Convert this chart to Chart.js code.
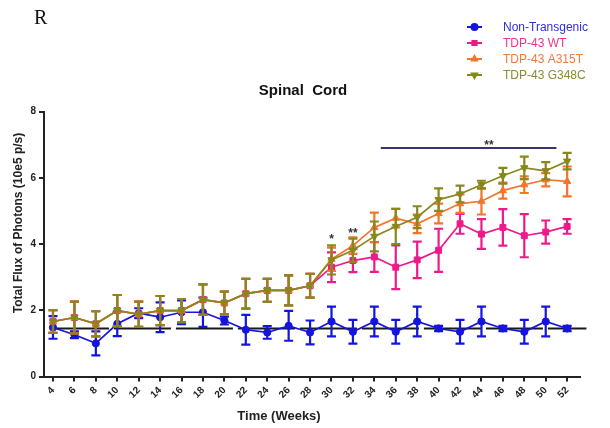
<!DOCTYPE html>
<html>
<head>
<meta charset="utf-8">
<script src="https://cdn.jsdelivr.net/npm/chart.js@4.4.1/dist/chart.umd.min.js"></script>
<style>
  html, body { margin: 0; padding: 0; background: #fff; }
  #wrap { width: 610px; height: 428px; position: relative; }
</style>
</head>
<body>
<div id="wrap"><canvas id="c"></canvas></div>
<script>
// Time points (weeks)
const weeks = [4, 6, 8, 10, 12, 14, 16, 18, 20, 22, 24, 26, 28, 30, 32, 34, 36, 38, 40, 42, 44, 46, 48, 50, 52];
const yTicks = [0, 2, 4, 6, 8];

// Total flux of photons (10e5 p/s), mean and SEM per group
const nonTgMean = [1.48, 1.26, 1.00, 1.59, 1.91, 1.79, 1.94, 1.94, 1.69, 1.41, 1.33, 1.53, 1.33, 1.66, 1.35, 1.66, 1.35, 1.66, 1.45, 1.35, 1.66, 1.45, 1.35, 1.66, 1.45];
const nonTgSem  = [0.34, 0.10, 0.36, 0.37, 0.15, 0.45, 0.36, 0.44, 0.12, 0.45, 0.19, 0.45, 0.36, 0.45, 0.36, 0.45, 0.36, 0.45, 0.08, 0.36, 0.45, 0.08, 0.36, 0.45, 0.08];

const wtMean = [1.66, 1.78, 1.59, 1.99, 1.88, 1.99, 1.99, 2.32, 2.22, 2.50, 2.60, 2.60, 2.74, 3.30, 3.50, 3.61, 3.30, 3.52, 3.81, 4.61, 4.30, 4.50, 4.25, 4.36, 4.53];
const wtSem  = [0.34, 0.48, 0.38, 0.47, 0.38, 0.44, 0.35, 0.46, 0.34, 0.45, 0.35, 0.45, 0.36, 0.45, 0.35, 0.45, 0.66, 0.55, 0.65, 0.30, 0.45, 0.55, 0.65, 0.35, 0.22];

const a315tMean = [1.66, 1.78, 1.59, 1.99, 1.88, 1.99, 1.99, 2.32, 2.22, 2.50, 2.60, 2.60, 2.74, 3.54, 3.95, 4.50, 4.78, 4.61, 4.92, 5.22, 5.29, 5.61, 5.79, 5.94, 5.89];
const a315tSem  = [0.34, 0.48, 0.38, 0.47, 0.38, 0.44, 0.35, 0.46, 0.34, 0.45, 0.35, 0.45, 0.36, 0.35, 0.25, 0.45, 0.28, 0.28, 0.30, 0.28, 0.40, 0.24, 0.25, 0.20, 0.45];

const g348cMean = [1.66, 1.78, 1.59, 1.99, 1.88, 1.99, 1.99, 2.32, 2.22, 2.50, 2.60, 2.60, 2.74, 3.52, 3.81, 4.23, 4.53, 4.81, 5.34, 5.51, 5.79, 6.06, 6.30, 6.21, 6.50];
const g348cSem  = [0.34, 0.48, 0.38, 0.47, 0.38, 0.44, 0.35, 0.46, 0.34, 0.45, 0.35, 0.45, 0.36, 0.44, 0.35, 0.45, 0.53, 0.33, 0.34, 0.25, 0.12, 0.24, 0.34, 0.26, 0.25];

// Reference level of the non-transgenic group and the significance bar
const baselineLevel = 1.45;
const baselineSpan = [3.9, 53.8];
const sigBarLevel = 6.9;
const sigBarSpan = [34.6, 51.0];
const sigMarks = [
  { week: 30, y: 4.22, text: '*' },
  { week: 32, y: 4.40, text: '**' },
  { week: 44.7, y: 7.07, text: '**' }
];

const seriesNames = ['Non-Transgenic', 'TDP-43 WT', 'TDP-43 A315T', 'TDP-43 G348C'];

const toPoints = (xs, ys) => xs.map((x, i) => ({ x, y: ys[i] }));

const COLORS = {
  nonTg: '#1414e0',
  wt: '#ee1a8a',
  a315t: '#f4752a',
  g348c: '#87871c'
};
const LEGEND_TEXT = ['#2f2fd6', '#ec3590', '#f07b3e', '#8a8a34'];

function seriesDataset(label, mean, sem, color, style, rotation, radius, order) {
  return {
    label, data: toPoints(weeks, mean), sem,
    borderColor: color, backgroundColor: color,
    borderWidth: 1.7, tension: 0,
    pointStyle: style, pointRotation: rotation, pointRadius: radius,
    pointBorderWidth: 1, pointBorderColor: color, pointBackgroundColor: color,
    order
  };
}

const datasets = [
  seriesDataset(seriesNames[0], nonTgMean, nonTgSem, COLORS.nonTg, 'circle', 0, 3.6, 3),
  seriesDataset(seriesNames[1], wtMean, wtSem, COLORS.wt, 'rect', 0, 4.2, 2),
  seriesDataset(seriesNames[2], a315tMean, a315tSem, COLORS.a315t, 'triangle', 0, 4.2, 1),
  seriesDataset(seriesNames[3], g348cMean, g348cSem, COLORS.g348c, 'triangle', 180, 4.2, 0),
  {
    label: 'baseline',
    data: baselineSpan.map(x => ({ x, y: baselineLevel })),
    borderColor: '#1a1a1a', borderWidth: 2, borderDash: [57, 5],
    pointRadius: 0, clip: false, order: 4
  },
  {
    label: 'significance',
    data: sigBarSpan.map(x => ({ x, y: sigBarLevel })),
    borderColor: '#36366e', borderWidth: 2,
    pointRadius: 0, clip: false, order: 5
  }
];

// Vertical SEM whiskers with caps, drawn just before each series
const errorBars = {
  id: 'errorBars',
  beforeDatasetDraw(chart, args) {
    const ds = chart.data.datasets[args.index];
    if (!ds.sem) return;
    const { ctx, scales: { x, y } } = chart;
    ctx.save();
    ctx.strokeStyle = ds.borderColor;
    ctx.lineWidth = 2.2;
    const cap = 4.5;
    ds.data.forEach((p, i) => {
      const px = x.getPixelForValue(p.x);
      const top = y.getPixelForValue(p.y + ds.sem[i]);
      const bot = y.getPixelForValue(p.y - ds.sem[i]);
      ctx.beginPath();
      ctx.moveTo(px, top); ctx.lineTo(px, bot);
      ctx.moveTo(px - cap, top); ctx.lineTo(px + cap, top);
      ctx.moveTo(px - cap, bot); ctx.lineTo(px + cap, bot);
      ctx.stroke();
    });
    ctx.restore();
  }
};

// Panel letter, titles, legend and significance stars
const decorations = {
  id: 'decorations',
  afterDraw(chart) {
    const { ctx, scales: { x, y } } = chart;
    ctx.save();

    ctx.fillStyle = '#111';
    ctx.font = '20px "Liberation Serif", serif';
    ctx.textAlign = 'left';
    ctx.textBaseline = 'alphabetic';
    ctx.fillText('R', 34, 24);

    ctx.font = 'bold 15px "Liberation Sans", Arial, sans-serif';
    ctx.textAlign = 'center';
    ctx.textBaseline = 'middle';
    ctx.fillStyle = '#111';
    ctx.fillText('Spinal  Cord', 303, 91);

    ctx.font = 'bold 13px "Liberation Sans", Arial, sans-serif';
    ctx.fillStyle = '#222';
    ctx.fillText('Time (Weeks)', 279, 416);

    ctx.save();
    ctx.translate(19, 223);
    ctx.rotate(-Math.PI / 2);
    ctx.font = 'bold 12px "Liberation Sans", Arial, sans-serif';
    ctx.fillText('Total Flux of Photons (10e5 p/s)', 0, 0);
    ctx.restore();

    // stars
    ctx.font = 'bold 12px "Liberation Sans", Arial, sans-serif';
    ctx.fillStyle = '#333';
    sigMarks.forEach(m => {
      ctx.fillText(m.text, x.getPixelForValue(m.week), y.getPixelForValue(m.y) + 3);
    });

    // legend
    const rows = [27, 43, 59, 75];
    const styles = [['circle', 0], ['rect', 0], ['triangle', 0], ['triangle', 180]];
    const cols = [COLORS.nonTg, COLORS.wt, COLORS.a315t, COLORS.g348c];
    ctx.font = '12px "Liberation Sans", Arial, sans-serif';
    ctx.textAlign = 'left';
    rows.forEach((ry, i) => {
      ctx.strokeStyle = cols[i];
      ctx.lineWidth = 2;
      ctx.beginPath();
      ctx.moveTo(467, ry); ctx.lineTo(482, ry);
      ctx.stroke();
      ctx.fillStyle = cols[i];
      Chart.helpers.drawPoint(ctx, {
        pointStyle: styles[i][0], rotation: styles[i][1], radius: 3, borderWidth: 1
      }, 474.5, ry);
      ctx.fillStyle = LEGEND_TEXT[i];
      ctx.fillText(seriesNames[i], 503, ry + 0.5);
    });
    ctx.restore();
  }
};

new Chart(document.getElementById('c'), {
  type: 'line',
  data: { datasets },
  plugins: [errorBars, decorations],
  options: {
    responsive: true,
    maintainAspectRatio: false,
    animation: false,
    devicePixelRatio: 1,
    layout: { padding: { top: 111.5, right: 30, bottom: 0, left: 0 } },
    plugins: { legend: { display: false }, tooltip: { enabled: false } },
    scales: {
      x: {
        type: 'linear', min: 3.16, max: 53.2,
        afterBuildTicks: s => { s.ticks = weeks.map(v => ({ value: v })); },
        afterFit: s => { s.height = 51.5; },
        border: { display: true, color: '#222', width: 2 },
        grid: { display: true, drawOnChartArea: false, drawTicks: true, tickLength: 5, color: '#222', lineWidth: 2 },
        ticks: {
          autoSkip: false, minRotation: 45, maxRotation: 45, padding: 3,
          color: '#222', font: { family: '"Liberation Sans", Arial, sans-serif', size: 10, weight: 'bold' }
        }
      },
      y: {
        min: 0, max: 8,
        afterBuildTicks: s => { s.ticks = yTicks.map(v => ({ value: v })); },
        afterFit: s => { s.width = 44; },
        border: { display: true, color: '#222', width: 2 },
        grid: { display: true, drawOnChartArea: false, drawTicks: true, tickLength: 5, color: '#222', lineWidth: 2 },
        ticks: {
          padding: 3, color: '#222',
          font: { family: '"Liberation Sans", Arial, sans-serif', size: 10, weight: 'bold' }
        }
      }
    }
  }
});
</script>
</body>
</html>
